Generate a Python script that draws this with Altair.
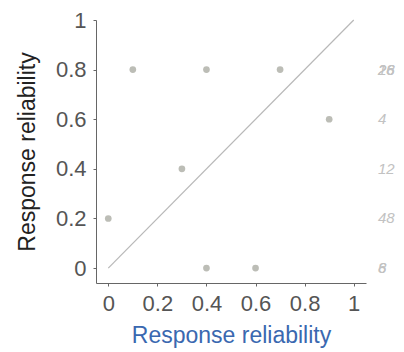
import altair as alt
import pandas as pd

x_vals = [0.0, 0.1, 0.3, 0.4, 0.4, 0.6, 0.7, 0.9]
y_vals = [0.2, 0.8, 0.4, 0.8, 0.0, 0.0, 0.8, 0.6]
labels = ["48", "28", "12", "16", "6", "8", "26", "4"]
diag_x = [0.0, 1.0]
diag_y = [0.0, 1.0]
ticks = [0, 0.2, 0.4, 0.6, 0.8, 1]

pts = pd.DataFrame({"x": x_vals, "y": y_vals, "label": labels})
diag = pd.DataFrame({"x": diag_x, "y": diag_y})

W, H = 270, 263
FONT = "Liberation Sans"
LBL = "datum.value == 0 || datum.value == 1 ? format(datum.value, 'd') : format(datum.value, '.1f')"

xscale = alt.Scale(domain=[-0.05, 1.05], nice=False, zero=False)
yscale = alt.Scale(domain=[-0.06, 1.0], nice=False, zero=False)

xaxis = alt.Axis(values=ticks, title="Response reliability", grid=False,
                 labelFontSize=22, titleFontSize=23, labelColor="#555555",
                 titleColor="#3a68b0", titleFontWeight="normal", titleFont=FONT,
                 labelFont=FONT, domainColor="#666666", tickColor="#666666",
                 tickSize=3, labelPadding=7, titlePadding=10, labelExpr=LBL)
yaxis = alt.Axis(values=ticks, title="Response reliability", grid=False,
                 labelFontSize=22, titleFontSize=23, labelColor="#555555",
                 titleColor="#222222", titleFontWeight="normal", titleFont=FONT,
                 labelFont=FONT, domainColor="#666666", tickColor="#666666",
                 tickSize=3, labelPadding=7, titlePadding=16, labelExpr=LBL)

line = alt.Chart(diag).mark_line(color="#b8b8b8", strokeWidth=1.2).encode(
    x=alt.X("x:Q", scale=xscale, axis=xaxis),
    y=alt.Y("y:Q", scale=yscale, axis=yaxis),
)

points = alt.Chart(pts).mark_circle(color="#bcbdb6", opacity=1, size=45).encode(
    x=alt.X("x:Q", scale=xscale),
    y=alt.Y("y:Q", scale=yscale),
)

text = alt.Chart(pts).mark_text(align="left", baseline="middle", fontStyle="italic",
                                 fontSize=15, font=FONT, color="#c2c2c2").encode(
    x=alt.value(W + 12),
    y=alt.Y("y:Q", scale=yscale),
    text="label:N",
)

chart = alt.layer(line, points, text).properties(
    width=W, height=H,
    background="white",
    autosize=alt.AutoSizeParams(type="none"),
    padding={"left": 88, "top": 12, "right": 30, "bottom": 69},
).configure_view(stroke=None)

chart.save("out.html", embed_options={"renderer": "svg", "actions": False})
